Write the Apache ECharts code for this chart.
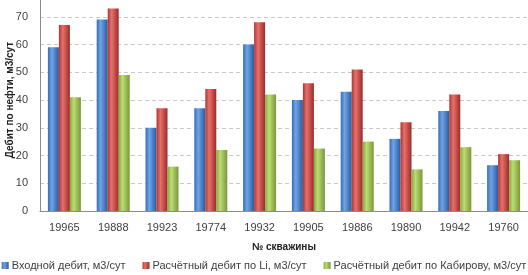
<!DOCTYPE html>
<html>
<head>
<meta charset="utf-8">
<script src="https://cdn.jsdelivr.net/npm/echarts@6/dist/echarts.min.js"></script>
<style>
  html, body { margin: 0; padding: 0; background: #fff; overflow: hidden; }
  /* верх графика (метка 80) срезан, как в оригинале */
  #chart { width: 528px; height: 286px; margin-top: -11px; }
</style>
</head>
<body>
<div id="chart"></div>
<script>
// --- data ---
const wells = ['19965', '19888', '19923', '19774', '19932', '19905', '19886', '19890', '19942', '19760'];
const inputRate = [59, 69, 30, 37, 60, 40, 43, 26, 36, 16.5];
const liRate = [67, 73, 37, 44, 68, 46, 51, 32, 42, 20.5];
const kabirovRate = [41, 49, 16, 22, 42, 22.5, 25, 15, 23, 18.3];
const yTicks = [0, 10, 20, 30, 40, 50, 60, 70, 80];

const FONT = '"Liberation Sans", Arial, sans-serif';

// горизонтальный градиент "цилиндр"
const cyl = (edge, light, edge2) => new echarts.graphic.LinearGradient(0, 0, 1, 0, [
  { offset: 0, color: edge },
  { offset: 0.35, color: light },
  { offset: 1, color: edge2 }
]);

const colors = {
  blue: cyl('#356cb4', '#6ea5e8', '#2b5a9c'),
  red: cyl('#b03532', '#e8706b', '#9a2c2a'),
  green: cyl('#88a83c', '#bddc74', '#78983a')
};

const mkSeries = (name, data, color) => ({
  name: name,
  type: 'bar',
  data: data,
  barWidth: 11,
  barGap: '0%',
  itemStyle: { color: color }
});

const chart = echarts.init(document.getElementById('chart'), null, { renderer: 'canvas' });

chart.setOption({
  backgroundColor: '#fff',
  animation: false,
  textStyle: { fontFamily: FONT },
  grid: { left: 40, right: 0, top: 0, bottom: 64, containLabel: false, outerBoundsMode: 'none' },
  legend: {
    bottom: 4,
    left: 'center',
    padding: 0,
    icon: 'rect',
    itemWidth: 7,
    itemHeight: 7,
    itemGap: 17,
    textStyle: { fontSize: 11, color: '#404040', fontFamily: FONT, padding: [0, 0, 0, -2] },
    data: ['Входной дебит, м3/сут', 'Расчётный дебит по Li, м3/сут', 'Расчётный дебит по Кабирову, м3/сут']
  },
  xAxis: {
    type: 'category',
    data: wells,
    name: '№ скважины',
    nameLocation: 'middle',
    nameGap: 31,
    nameMoveOverlap: false,
    nameTextStyle: { fontSize: 10, fontWeight: 'bold', color: '#222', fontFamily: FONT },
    axisLine: { lineStyle: { color: '#8c8c8c' } },
    axisTick: { show: false },
    axisLabel: { fontSize: 11, color: '#404040', margin: 11, fontFamily: FONT }
  },
  yAxis: {
    type: 'value',
    min: yTicks[0],
    max: yTicks[yTicks.length - 1],
    interval: 10,
    name: 'Дебит по нефти, м3/сут',
    nameLocation: 'middle',
    nameGap: 25,
    nameMoveOverlap: false,
    nameTextStyle: { fontSize: 10, fontWeight: 'bold', color: '#222', fontFamily: FONT },
    axisLine: { show: true, lineStyle: { color: '#8c8c8c' } },
    axisTick: { show: false },
    axisLabel: { fontSize: 11, color: '#404040', margin: 12, fontFamily: FONT },
    splitLine: { lineStyle: { type: [4, 3], color: '#c8c8c8' } }
  },
  series: [
    mkSeries('Входной дебит, м3/сут', inputRate, colors.blue),
    mkSeries('Расчётный дебит по Li, м3/сут', liRate, colors.red),
    mkSeries('Расчётный дебит по Кабирову, м3/сут', kabirovRate, colors.green)
  ]
});
</script>
</body>
</html>
